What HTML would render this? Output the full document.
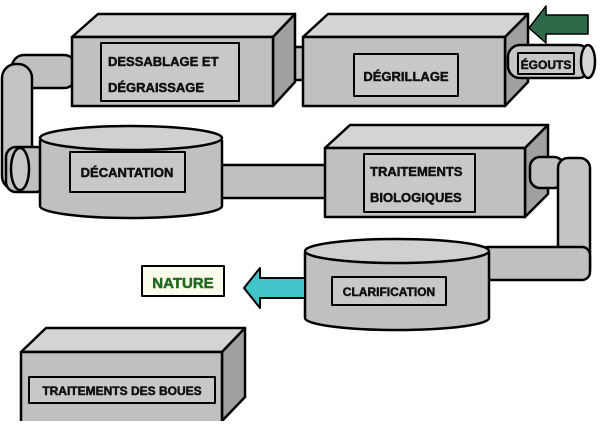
<!DOCTYPE html>
<html><head><meta charset="utf-8"><style>
html,body{margin:0;padding:0;background:#fff}
svg text{font-family:"Liberation Sans",sans-serif;font-weight:bold;fill:#111;stroke:#111;stroke-width:0.5}
</style></head><body>
<svg width="600" height="421" viewBox="0 0 600 421" xmlns="http://www.w3.org/2000/svg" stroke="#000" stroke-width="2.5" stroke-linejoin="round">
<rect x="12" y="55" width="64" height="33" rx="12" fill="#c0c0c0"/>
<rect x="2" y="64" width="30" height="126" rx="14" fill="#c4c4c4"/>
<rect x="6" y="147" width="40" height="45" rx="10" fill="#c0c0c0"/>
<ellipse cx="20" cy="169" rx="9" ry="21" fill="#c8c8c8"/>
<rect x="268" y="47" width="40" height="33" fill="#c0c0c0"/>
<rect x="215" y="165" width="115" height="33" fill="#c0c0c0"/>

<polygon points="72,37 98,14 295,14 273,37" fill="#d4d4d4"/>
<polygon points="273,37 295,14 295,82 273,106" fill="#a0a0a0"/>
<rect x="72" y="37" width="201" height="69" fill="#c0c0c0"/>
<rect x="101" y="43" width="138" height="58" fill="#c8c8c8" stroke-width="2"/>
<text x="108" y="66" font-size="13">DESSABLAGE ET</text>
<text x="108" y="92" font-size="13">DÉGRAISSAGE</text>

<polygon points="303,37 328,14 528,14 505,37" fill="#d4d4d4"/>
<polygon points="505,37 528,14 528,82 505,106" fill="#a0a0a0"/>
<rect x="303" y="37" width="202" height="69" fill="#c0c0c0"/>
<rect x="354" y="54" width="104" height="42" fill="#c8c8c8" stroke-width="2"/>
<text x="406" y="81" font-size="13" text-anchor="middle">DÉGRILLAGE</text>

<rect x="508" y="45" width="82" height="33" rx="12" fill="#c8c8c8"/>
<ellipse cx="588" cy="61.5" rx="7" ry="16.5" fill="#d8d8d8"/>
<rect x="518" y="53" width="56" height="21" fill="#c8c8c8" stroke-width="2"/>
<text x="546" y="69" font-size="12" text-anchor="middle">ÉGOUTS</text>
<polygon points="588,15 546,15 546,6 529,28 546,43 546,34 588,34" fill="#2e6a4a" stroke="#000" stroke-width="1.5"/>

<path d="M40,140 L40,206 A91,12 0 0 0 222,206 L222,140" fill="#c0c0c0"/>
<ellipse cx="131" cy="138" rx="91" ry="12" fill="#d0d0d0"/>
<rect x="70" y="152" width="115" height="40" fill="#c8c8c8" stroke-width="2"/>
<text x="127" y="177" font-size="13" text-anchor="middle">DÉCANTATION</text>

<polygon points="325,148 350,125 548,125 525,148" fill="#d4d4d4"/>
<polygon points="525,148 548,125 548,194 525,217" fill="#a0a0a0"/>
<rect x="325" y="148" width="200" height="69" fill="#c0c0c0"/>
<rect x="364" y="154" width="111" height="58" fill="#c8c8c8" stroke-width="2"/>
<text x="370" y="176" font-size="13">TRAITEMENTS</text>
<text x="370" y="202" font-size="13">BIOLOGIQUES</text>

<rect x="530" y="157" width="34" height="31" rx="10" fill="#c0c0c0"/>
<rect x="558" y="158" width="32" height="120" rx="10" fill="#c4c4c4"/>
<rect x="480" y="247" width="110" height="33" rx="8" fill="#c0c0c0"/>

<path d="M305,252 L305,318 A92,12 0 0 0 489,318 L489,252" fill="#c0c0c0"/>
<ellipse cx="397" cy="251" rx="92" ry="12" fill="#d0d0d0"/>
<rect x="332" y="277" width="114" height="28" fill="#c8c8c8" stroke-width="2"/>
<text x="389" y="296" font-size="12" text-anchor="middle">CLARIFICATION</text>

<polygon points="305,278 260,278 260,268 244,288 260,308 260,298 305,298" fill="#40c4c8" stroke-width="2"/>
<rect x="142" y="266" width="82" height="30" fill="#fbfbec" stroke-width="2"/>
<text x="183" y="288" font-size="15" text-anchor="middle" style="fill:#1f6a1f;stroke:#1f6a1f">NATURE</text>

<polygon points="21,352 46,328 245,328 222,352" fill="#d4d4d4"/>
<polygon points="222,352 245,328 245,397 222,421" fill="#a0a0a0"/>
<rect x="21" y="352" width="201" height="72" fill="#c0c0c0"/>
<rect x="29" y="377" width="186" height="26" fill="#c8c8c8" stroke-width="2"/>
<text x="122" y="395" font-size="12" text-anchor="middle">TRAITEMENTS DES BOUES</text>
</svg>
</body></html>
